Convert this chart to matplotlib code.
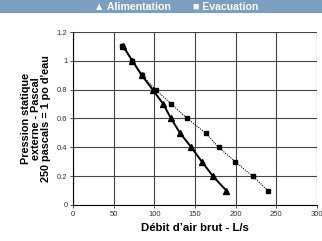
import matplotlib
matplotlib.use("Agg")
import matplotlib.pyplot as plt
from matplotlib.patches import Rectangle

# Alimentation (triangles, trait plein)
alim_x = [62, 73, 84.5, 98, 111, 120.5, 131.5, 145.5, 158.5, 172, 188.5]
alim_y = [1.1, 1.0, 0.9, 0.8, 0.7, 0.6, 0.5, 0.4, 0.3, 0.2, 0.1]

# Evacuation (carres, pointilles)
evac_x = [60, 73, 85, 101.5, 121, 140.5, 163, 179, 199.5, 221, 239.5]
evac_y = [1.1, 1.0, 0.9, 0.8, 0.7, 0.6, 0.5, 0.4, 0.3, 0.2, 0.1]

xticks = [0, 50, 100, 150, 200, 250, 300]
xtick_labels = ["0", "50", "100", "150", "200", "250", "300"]
yticks = [0, 0.2, 0.4, 0.6, 0.8, 1.0, 1.2]
ytick_labels = ["0", "0.2", "0.4", "0.6", "0.8", "1", "1.2"]

plt.rcParams['font.family'] = ['Liberation Sans', 'DejaVu Sans']

fig = plt.figure(figsize=(3.22, 2.41), dpi=100)
ax = fig.add_axes([0.2267, 0.1494, 0.7578, 0.7178])

# bandeau de legende
fig.patches.append(Rectangle((0, 0.946), 1, 0.054, transform=fig.transFigure,
                             facecolor="#7a9fc3", edgecolor="none"))
fig.text(0.293, 0.972, u"\u25b2 Alimentation", color="white", fontsize=7.6,
         fontweight="bold", ha="left", va="center",
         family=['Liberation Sans', 'DejaVu Sans'])
fig.text(0.598, 0.972, u"\u25a0 Evacuation", color="white", fontsize=7.6,
         fontweight="bold", ha="left", va="center",
         family=['Liberation Sans', 'DejaVu Sans'])

ax.plot(alim_x, alim_y, color="black", lw=1.4, marker="^", ms=3.8, zorder=4)
ax.plot(evac_x, evac_y, color="black", lw=0.7, ls=(0, (1.2, 1.2)),
        marker="s", ms=2.8, zorder=3)

ax.set_xlim(0, 300)
ax.set_ylim(0, 1.2)
ax.set_xticks(xticks)
ax.set_xticklabels(xtick_labels)
ax.set_yticks(yticks)
ax.set_yticklabels(ytick_labels)
ax.get_xticklabels()[-1].set_clip_on(False)
ax.grid(True, color="#444444", lw=0.8)
ax.set_axisbelow(True)
ax.tick_params(labelsize=5.5, length=2, width=0.6, colors="#333333", pad=2)
for s in ["top", "right"]:
    ax.spines[s].set_visible(False)
for s in ["left", "bottom"]:
    ax.spines[s].set_linewidth(0.8)

ax.set_xlabel(u"D\u00e9bit d\u2019air brut - L/s", fontsize=8.2,
              fontweight="bold", labelpad=4)
ax.set_ylabel("Pression statique\nexterne - Pascal\n250 pascals = 1 po d'eau",
              fontsize=7.8, fontweight="bold", labelpad=4, linespacing=1.0)

fig.savefig("out.png", dpi=100)
